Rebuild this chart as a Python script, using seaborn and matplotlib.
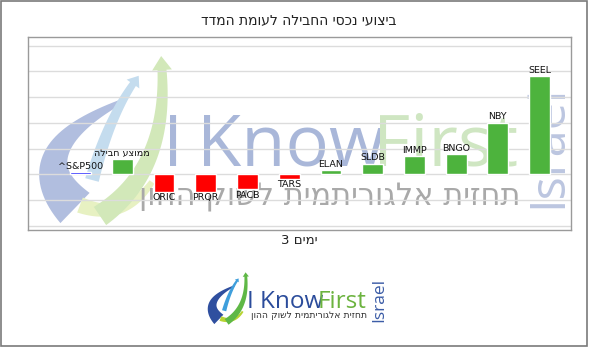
import matplotlib
matplotlib.use("Agg")
import matplotlib.pyplot as plt
import matplotlib.transforms as mtransforms
import seaborn as sns
import numpy as np
from matplotlib.patches import Rectangle, Polygon

# ---- data ----
categories = ["^S&P500", "ממוצע חבילה", "ORIC", "PRQR", "PACB", "TARS",
              "ELAN", "SLDB", "IMMP", "BNGO", "NBY", "SEEL"]
values = [0.4, 2.89, -3.4, -3.4, -2.9, -0.9, 0.85, 2.05, 3.5, 3.95, 10.0, 19.1]
bar_colors = ["#0000ff", "#4db33d", "#ff0000", "#ff0000", "#ff0000", "#ff0000",
              "#4db33d", "#4db33d", "#4db33d", "#4db33d", "#4db33d", "#4db33d"]
title_text = "ביצועי נכסי החבילה לעומת המדד"
xlabel_word = "ימים"
xlabel_num = "3"
tagline = "תחזית אלגוריתמית לשוק ההון"


def vis(s):
    """Visual order for right-to-left Hebrew text (matplotlib has no bidi)."""
    if any('\u0590' <= ch <= '\u05ff' for ch in s):
        return s[::-1]
    return s


W, H = 592, 347
sns.set_theme(style="white")
plt.rcParams['font.family'] = ['DejaVu Sans']

fig = plt.figure(figsize=(W / 100, H / 100), dpi=100)
ax = fig.add_axes([28 / W, 1 - 230 / H, (570.5 - 28) / W, (230 - 37) / H])


def fx(px):
    return px / W


def fy(py):
    return 1 - py / H


tf = fig.transFigure


# ---- decorative logo mark (pixel geometry, top-left origin) ----
def band(p0, p1, p2, w0, w1, head=0, n=40):
    t = np.linspace(0, 1, n)[:, None]
    P0, P1, P2 = map(np.array, (p0, p1, p2))
    pts = (1 - t) ** 2 * P0 + 2 * (1 - t) * t * P1 + t ** 2 * P2
    d = 2 * (1 - t) * (P1 - P0) + 2 * t * (P2 - P1)
    d = d / np.linalg.norm(d, axis=1, keepdims=True)
    nrm = np.column_stack([-d[:, 1], d[:, 0]])
    w = (w0 + (w1 - w0) * t) / 2
    left = pts + nrm * w
    right = pts - nrm * w
    poly = [left]
    if head:
        tip = pts[-1] + d[-1] * head
        poly.append(np.array([pts[-1] + nrm[-1] * w[-1] * 2.2, tip,
                              pts[-1] - nrm[-1] * w[-1] * 2.2]))
    poly.append(right[::-1])
    return np.vstack(poly)


mark_shapes = [
    (band((75, 208), (15, 150), (125, 100), 42, 4), "blue"),
    (band((80, 205), (125, 222), (152, 182), 16, 6), "yellow"),
    (band((92, 180), (108, 120), (133, 84), 14, 7, head=10), "light"),
    (band((100, 216), (168, 170), (162, 70), 22, 9, head=14), "green"),
]


def draw_mark(target, ox, oy, s, palette, alpha, z):
    for pts, key in mark_shapes:
        q = np.column_stack([(pts[:, 0] - 40) * s + ox, H - ((pts[:, 1] - 55) * s + oy)])
        p = Polygon(q, closed=True, facecolor=palette[key], edgecolor="none",
                    alpha=alpha, zorder=z, transform=mtransforms.IdentityTransform())
        if target is ax:
            ax.add_artist(p)
        else:
            fig.patches.append(p)


wm_palette = {"blue": "#b1bedf", "yellow": "#e7f1c2", "light": "#c4dcee", "green": "#d2e8b9"}
logo_palette = {"blue": "#2f4f9f", "yellow": "#b8d433", "light": "#3f9fdc", "green": "#5fb846"}

# ---- watermark (behind bars) ----
draw_mark(ax, 40, 55, 1.0, wm_palette, 1.0, 0.4)
ax.text(fx(163), fy(166), "I", transform=tf, fontsize=52, color="#9aabd3",
        family="Open Sans", ha="left", va="baseline", zorder=0.5, alpha=0.85)
ax.text(fx(197), fy(166), "Know", transform=tf, fontsize=52, color="#9aabd3",
        family="Open Sans", ha="left", va="baseline", zorder=0.5, alpha=0.85)
ax.text(fx(373), fy(166), "First", transform=tf, fontsize=52, color="#cfe6c2",
        family="Open Sans", ha="left", va="baseline", zorder=0.5)
ax.text(fx(520), fy(198), vis(tagline), transform=tf,
        fontsize=22, color="#a9a9a9", ha="right", va="center", zorder=0.5)
ax.text(fx(549), fy(146), "Israel", transform=tf, fontsize=35, color="#bcc6e0",
        family="Open Sans", rotation=90, ha="center", va="center", zorder=0.5)

# ---- bars ----
sns.barplot(x=categories, y=values, hue=categories, palette=bar_colors,
            legend=False, width=0.5, ax=ax, zorder=2, saturation=1)

ax.set_xlim(-1.26, len(categories) - 0.26)
ax.set_ylim(-10.84, 26.7)
ax.set_yticks(np.arange(-10, 26, 5))
ax.set_yticklabels([])
ax.set_xticks([])
ax.tick_params(left=False, bottom=False)
ax.grid(axis="y", color="#dcdcdc", linewidth=1, zorder=0)
ax.set_axisbelow(True)
for sp in ax.spines.values():
    sp.set_color("#9a9a9a")
    sp.set_linewidth(1)
    sp.set_visible(True)

for i, (c, v) in enumerate(zip(categories, values)):
    if v >= 0:
        ax.annotate(vis(c), (i, v), xytext=(0, 1), textcoords="offset points",
                    ha="center", va="bottom", fontsize=6.8, color="#111111", zorder=3)
    else:
        ax.annotate(vis(c), (i, v), xytext=(0, -1), textcoords="offset points",
                    ha="center", va="top", fontsize=6.8, color="#111111", zorder=3)

ax.set_xlabel("")
ax.set_ylabel("")

fig.text(fx(299), fy(20), vis(title_text), ha="center", va="center",
         fontsize=10, color="#222222")
fig.text(fx(299), fy(240), xlabel_num + " " + vis(xlabel_word), ha="center",
         va="center", fontsize=9.5, color="#222222")

# ---- bottom logo ----
draw_mark(fig, 208, 272, 0.31, logo_palette, 1.0, 1)
fig.text(fx(247), fy(308), "I Know", ha="left", va="baseline", fontsize=17.5,
         color="#2b4c9b", family="Open Sans")
fig.text(fx(318), fy(308), "First", ha="left", va="baseline", fontsize=17.5,
         color="#6cb33f", family="Open Sans")
fig.text(fx(367), fy(316), vis(tagline), ha="right",
         va="center", fontsize=6.7, color="#333333")
fig.text(fx(379), fy(300), "Israel", ha="center", va="center", fontsize=12.5,
         color="#3b5ca6", rotation=90, family="Open Sans")

# outer border
fig.patches.append(Rectangle((0.5 / W, 1.5 / H), 586.5 / W, (H - 2.5) / H,
                             transform=fig.transFigure, fill=False,
                             edgecolor="#7a7a7a", linewidth=1.2))

fig.savefig("out.png", dpi=100)
